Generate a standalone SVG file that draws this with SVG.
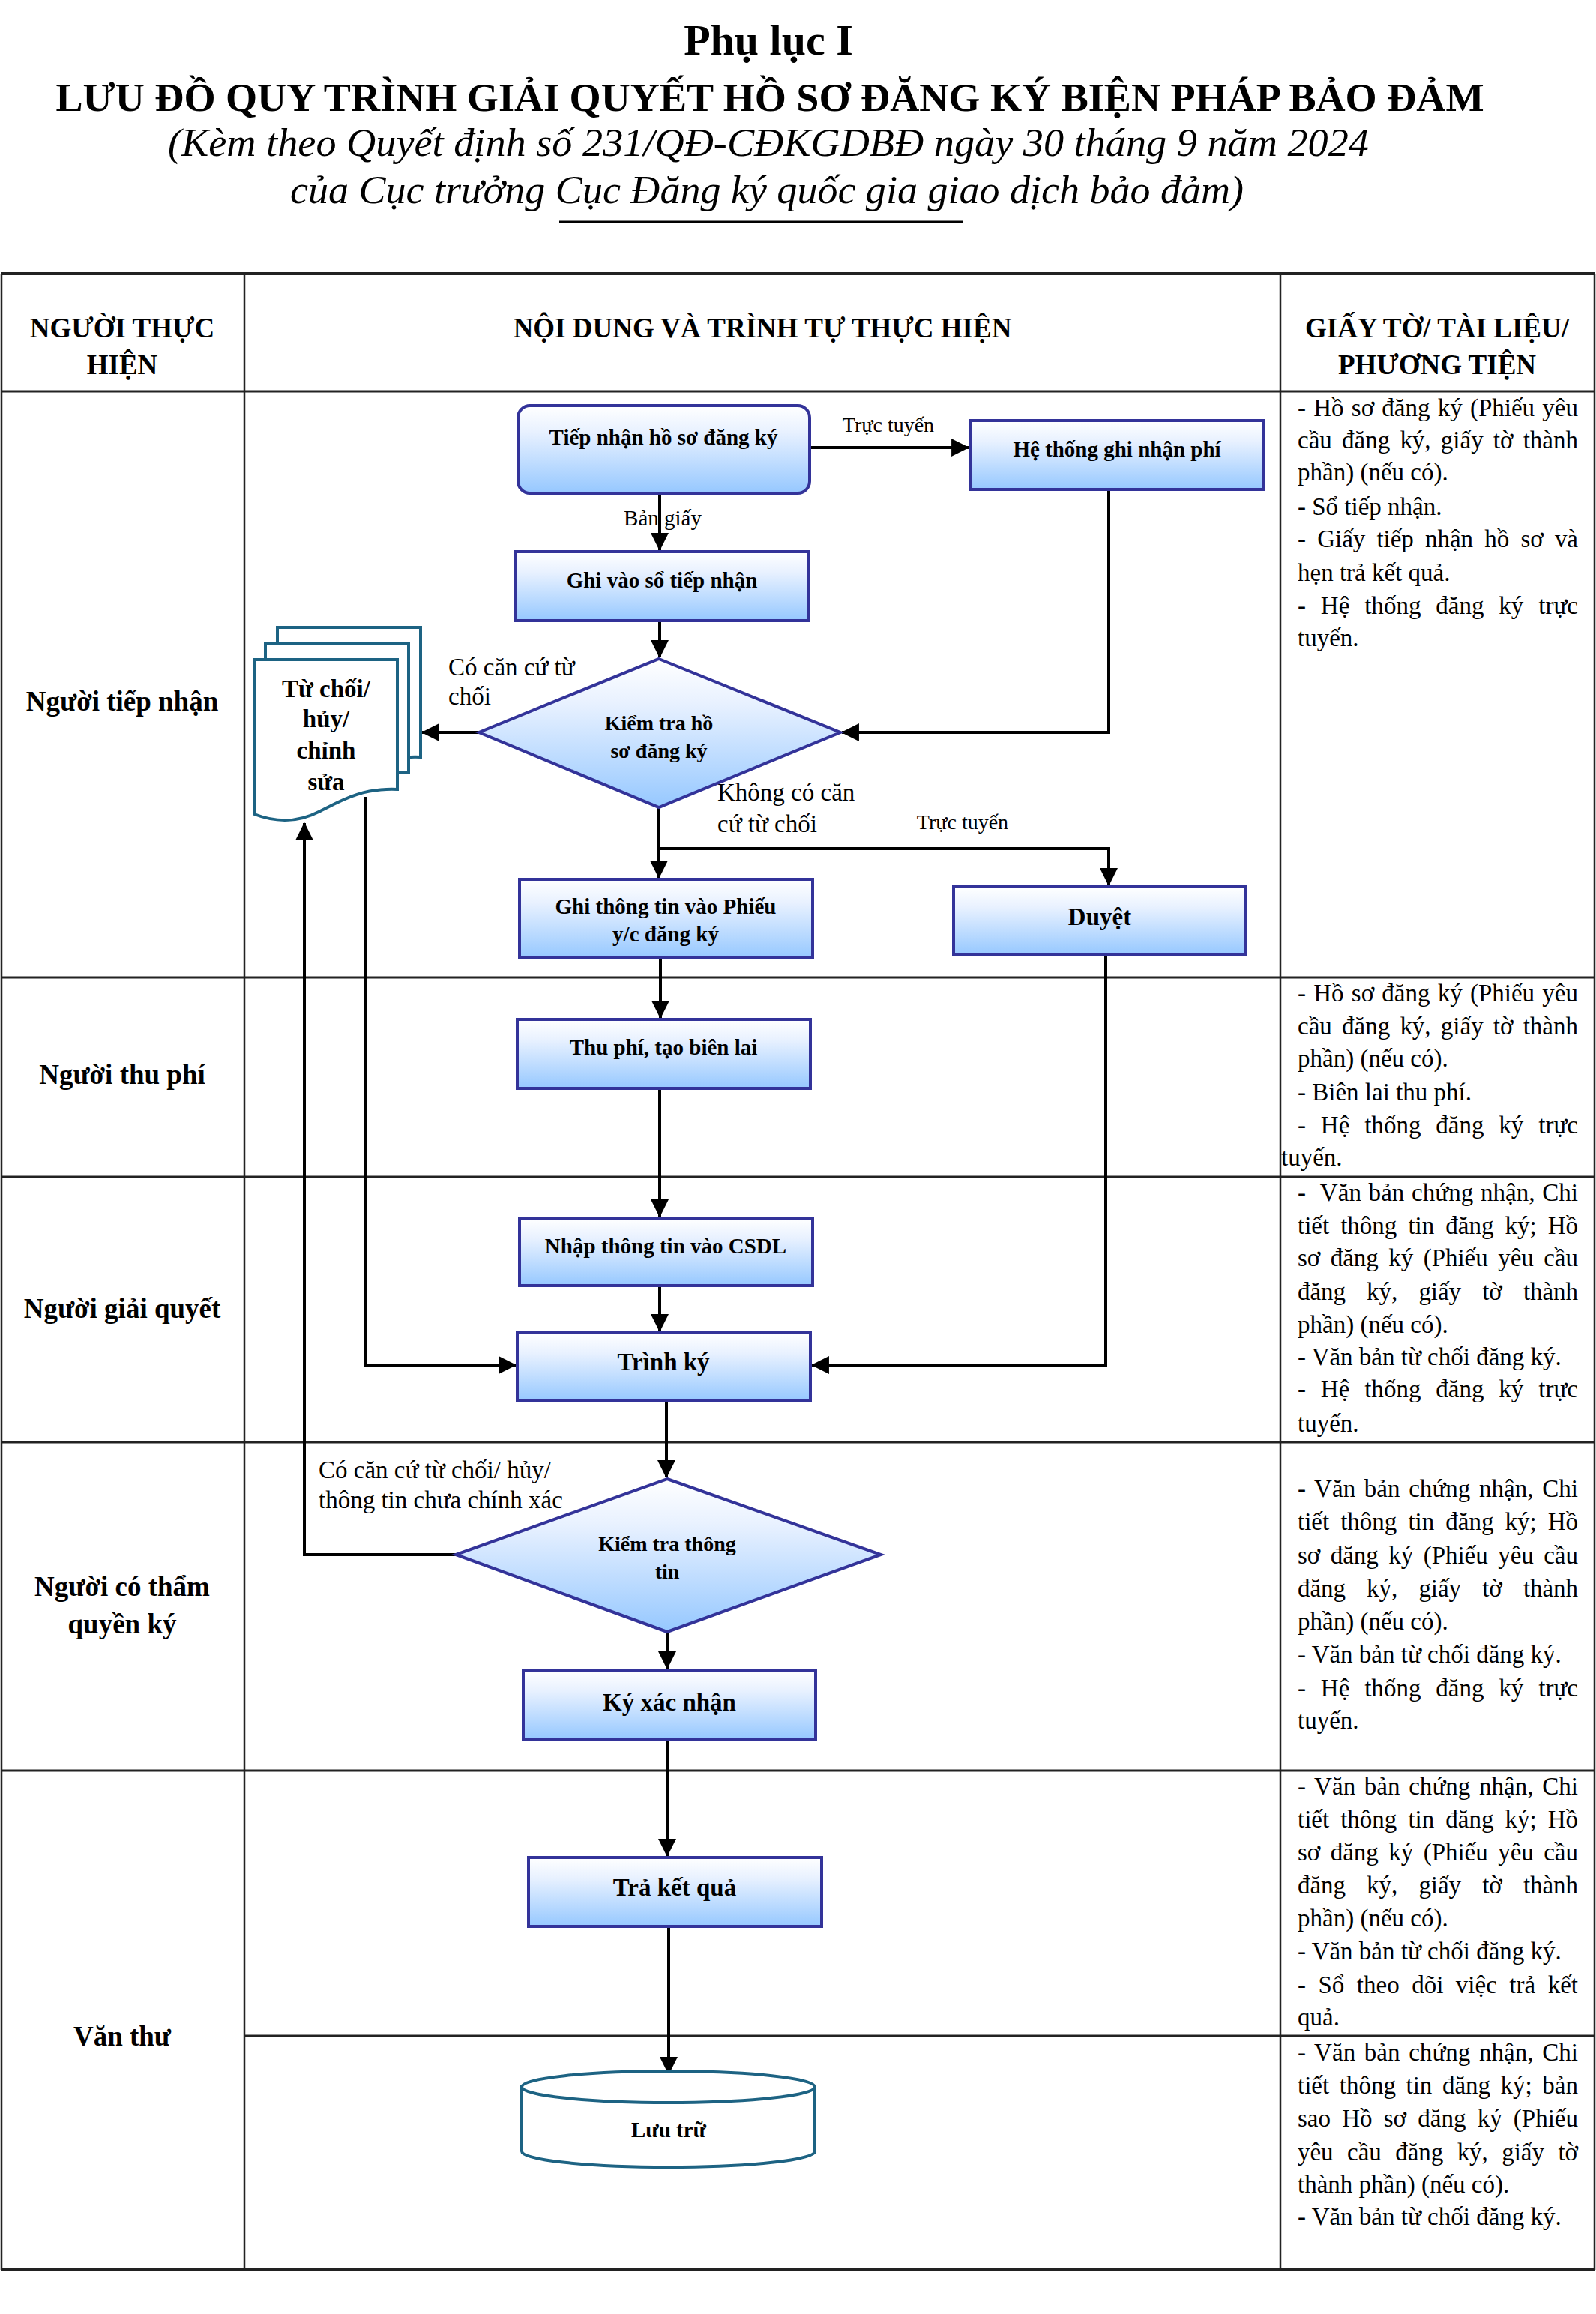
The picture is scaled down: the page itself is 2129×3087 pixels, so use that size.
<svg xmlns="http://www.w3.org/2000/svg" width="2129" height="3087" viewBox="0 0 2129 3087">
<style>
text{font-family:"Liberation Serif","Times New Roman",serif;fill:#000}
.t1{font-size:58px;font-weight:bold}
.t2{font-size:53px;font-weight:bold}
.t3{font-size:53px;font-style:italic}
.hd{font-size:37px;font-weight:bold;text-anchor:middle}
.lane{font-size:37px;font-weight:bold;text-anchor:middle}
.doc{font-size:33px}
.bx{font-size:29px;font-weight:bold;text-anchor:middle}
.bx2{font-size:33px;font-weight:bold;text-anchor:middle}
.lbl{font-size:33px}
.lbs{font-size:28px}
.tl{stroke:#222;stroke-width:3;fill:none}
.tv{stroke:#222;stroke-width:2.5;fill:none}
.box{fill:url(#g);stroke:#333399;stroke-width:4}
.dm{fill:url(#g);stroke:#333399;stroke-width:4}
.teal{fill:#fff;stroke:#1d6383;stroke-width:4}
.cn{stroke:#000;stroke-width:4;fill:none;marker-end:url(#ah)}
.wA{word-spacing:2px}.wB{word-spacing:5px}.wC{word-spacing:7px}.wD{word-spacing:11.5px}
.wE{word-spacing:3.3px}.wE2{word-spacing:1.4px}.wF{word-spacing:6.8px}.wG{word-spacing:5.2px}
.wH{word-spacing:20px}.wI{word-spacing:8.2px}.wJ{word-spacing:5.3px}.wK{word-spacing:7px}.wL{word-spacing:10.3px}
</style>
<defs>
<linearGradient id="g" x1="0" y1="0" x2="0" y2="1">
<stop offset="0" stop-color="#ffffff"/>
<stop offset="0.3" stop-color="#e8f1ff"/>
<stop offset="1" stop-color="#96c8ff"/>
</linearGradient>
<marker id="ah" markerUnits="userSpaceOnUse" markerWidth="24" markerHeight="24" viewBox="0 0 22 22" refX="21" refY="11" orient="auto">
<path d="M0,0 L22,11 L0,22 Z" fill="#000"/>
</marker>
</defs>
<rect x="0" y="0" width="2129" height="3087" fill="#fff"/>

<g id="title">
<text class="t1" x="1025" y="73" text-anchor="middle">Phụ lục I</text>
<text class="t2" x="1027" y="148" text-anchor="middle" textLength="1905" lengthAdjust="spacingAndGlyphs">LƯU ĐỒ QUY TRÌNH GIẢI QUYẾT HỒ SƠ ĐĂNG KÝ BIỆN PHÁP BẢO ĐẢM</text>
<text class="t3" x="1025" y="208" text-anchor="middle" textLength="1602" lengthAdjust="spacingAndGlyphs">(Kèm theo Quyết định số 231/QĐ-CĐKGDBĐ ngày 30 tháng 9 năm 2024</text>
<text class="t3" x="1023" y="271" text-anchor="middle" textLength="1272" lengthAdjust="spacingAndGlyphs">của Cục trưởng Cục Đăng ký quốc gia giao dịch bảo đảm)</text>
<line x1="746" y1="296" x2="1284" y2="296" stroke="#000" stroke-width="3"/>
</g>

<g id="table">
<path class="tl" d="M2,365 H2127" style="stroke-width:4"/>
<path class="tl" d="M2,522 H2127"/>
<path class="tl" d="M2,1304 H2127"/>
<path class="tl" d="M2,1570 H2127"/>
<path class="tl" d="M2,1924 H2127"/>
<path class="tl" d="M2,2362 H2127"/>
<path class="tl" d="M327,2716 H2127"/>
<path class="tl" d="M2,3028 H2127" style="stroke-width:4"/>
<path class="tv" d="M2,365 V3028"/>
<path class="tv" d="M326,365 V3028"/>
<path class="tv" d="M1708,365 V3028"/>
<path class="tv" d="M2127,365 V3028"/>
<text class="hd" x="163" y="450">NGƯỜI THỰC</text>
<text class="hd" x="163" y="499">HIỆN</text>
<text class="hd" x="1017" y="450">NỘI DUNG VÀ TRÌNH TỰ THỰC HIỆN</text>
<text class="hd" x="1917" y="450">GIẤY TỜ/ TÀI LIỆU/</text>
<text class="hd" x="1917" y="499">PHƯƠNG TIỆN</text>
</g>

<g id="lanes">
<text class="lane" x="163" y="948">Người tiếp nhận</text>
<text class="lane" x="163" y="1446">Người thu phí</text>
<text class="lane" x="163" y="1758">Người giải quyết</text>
<text class="lane" x="163" y="2129">Người có thẩm</text>
<text class="lane" x="163" y="2179">quyền ký</text>
<text class="lane" x="163" y="2729">Văn thư</text>
</g>

<g id="docs">
<g id="docs-r1">
<text class="doc wA" x="1731" y="555" textLength="374" lengthAdjust="spacing">- Hồ sơ đăng ký (Phiếu yêu</text>
<text class="doc wB" x="1731" y="598" textLength="374" lengthAdjust="spacing">cầu đăng ký, giấy tờ thành</text>
<text class="doc" x="1731" y="641">phần) (nếu có).</text>
<text class="doc" x="1731" y="687">- Sổ tiếp nhận.</text>
<text class="doc wC" x="1731" y="730" textLength="374" lengthAdjust="spacing">- Giấy tiếp nhận hồ sơ và</text>
<text class="doc" x="1731" y="775">hẹn trả kết quả.</text>
<text class="doc wD" x="1731" y="819" textLength="374" lengthAdjust="spacing">- Hệ thống đăng ký trực</text>
<text class="doc" x="1731" y="862">tuyến.</text>
</g>
<g id="docs-r2">
<text class="doc wA" x="1731" y="1336" textLength="374" lengthAdjust="spacing">- Hồ sơ đăng ký (Phiếu yêu</text>
<text class="doc wB" x="1731" y="1380" textLength="374" lengthAdjust="spacing">cầu đăng ký, giấy tờ thành</text>
<text class="doc" x="1731" y="1423">phần) (nếu có).</text>
<text class="doc" x="1731" y="1468">- Biên lai thu phí.</text>
<text class="doc wD" x="1731" y="1512" textLength="374" lengthAdjust="spacing">- Hệ thống đăng ký trực</text>
<text class="doc" x="1709" y="1555">tuyến.</text>
</g>
<g id="docs-r3">
<text class="doc wE2" x="1731" y="1602" textLength="374" lengthAdjust="spacing">-&#160; Văn bản chứng nhận, Chi</text>
<text class="doc wF" x="1731" y="1646" textLength="374" lengthAdjust="spacing">tiết thông tin đăng ký; Hồ</text>
<text class="doc wG" x="1731" y="1689" textLength="374" lengthAdjust="spacing">sơ đăng ký (Phiếu yêu cầu</text>
<text class="doc wH" x="1731" y="1734" textLength="374" lengthAdjust="spacing">đăng ký, giấy tờ thành</text>
<text class="doc" x="1731" y="1778">phần) (nếu có).</text>
<text class="doc" x="1731" y="1821">- Văn bản từ chối đăng ký.</text>
<text class="doc wD" x="1731" y="1864" textLength="374" lengthAdjust="spacing">- Hệ thống đăng ký trực</text>
<text class="doc" x="1731" y="1910">tuyến.</text>
</g>
<g id="docs-r4">
<text class="doc wE" x="1731" y="1997" textLength="374" lengthAdjust="spacing">- Văn bản chứng nhận, Chi</text>
<text class="doc wF" x="1731" y="2041" textLength="374" lengthAdjust="spacing">tiết thông tin đăng ký; Hồ</text>
<text class="doc wG" x="1731" y="2086" textLength="374" lengthAdjust="spacing">sơ đăng ký (Phiếu yêu cầu</text>
<text class="doc wH" x="1731" y="2130" textLength="374" lengthAdjust="spacing">đăng ký, giấy tờ thành</text>
<text class="doc" x="1731" y="2174">phần) (nếu có).</text>
<text class="doc" x="1731" y="2218">- Văn bản từ chối đăng ký.</text>
<text class="doc wD" x="1731" y="2263" textLength="374" lengthAdjust="spacing">- Hệ thống đăng ký trực</text>
<text class="doc" x="1731" y="2306">tuyến.</text>
</g>
<g id="docs-r5">
<text class="doc wE" x="1731" y="2394" textLength="374" lengthAdjust="spacing">- Văn bản chứng nhận, Chi</text>
<text class="doc wF" x="1731" y="2438" textLength="374" lengthAdjust="spacing">tiết thông tin đăng ký; Hồ</text>
<text class="doc wG" x="1731" y="2482" textLength="374" lengthAdjust="spacing">sơ đăng ký (Phiếu yêu cầu</text>
<text class="doc wH" x="1731" y="2526" textLength="374" lengthAdjust="spacing">đăng ký, giấy tờ thành</text>
<text class="doc" x="1731" y="2570">phần) (nếu có).</text>
<text class="doc" x="1731" y="2614">- Văn bản từ chối đăng ký.</text>
<text class="doc wI" x="1731" y="2659" textLength="374" lengthAdjust="spacing">- Sổ theo dõi việc trả kết</text>
<text class="doc" x="1731" y="2702">quả.</text>
</g>
<g id="docs-r6">
<text class="doc wE" x="1731" y="2749" textLength="374" lengthAdjust="spacing">- Văn bản chứng nhận, Chi</text>
<text class="doc wJ" x="1731" y="2793" textLength="374" lengthAdjust="spacing">tiết thông tin đăng ký; bản</text>
<text class="doc wK" x="1731" y="2837" textLength="374" lengthAdjust="spacing">sao Hồ sơ đăng ký (Phiếu</text>
<text class="doc wL" x="1731" y="2882" textLength="374" lengthAdjust="spacing">yêu cầu đăng ký, giấy tờ</text>
<text class="doc" x="1731" y="2925">thành phần) (nếu có).</text>
<text class="doc" x="1731" y="2968">- Văn bản từ chối đăng ký.</text>
</g>
</g>

<g id="connectors">
<path class="cn" d="M880,658 V734"/>
<path class="cn" d="M1080,597 H1292"/>
<path class="cn" d="M1479,653 V977 H1123"/>
<path class="cn" d="M880,828 V877"/>
<path class="cn" d="M639,977 H563"/>
<path class="cn" d="M879,1077 V1171"/>
<path class="cn" d="M879,1132 H1479 V1181"/>
<path class="cn" d="M881,1278 V1358"/>
<path class="cn" d="M880,1452 V1623"/>
<path class="cn" d="M880,1715 V1776"/>
<path class="cn" d="M1475,1274 V1821 H1083"/>
<path class="cn" d="M488,1063 V1821 H688"/>
<path class="cn" d="M889,1869 V1971"/>
<path class="cn" d="M608,2074 H406 V1098"/>
<path class="cn" d="M890,2177 V2226"/>
<path class="cn" d="M890,2320 V2476"/>
<path class="cn" d="M892,2570 V2767"/>
<text class="lbl" x="884" y="701" text-anchor="middle" style="font-size:29px">Bản giấy</text>
<text class="lbs" x="1185" y="576" text-anchor="middle">Trực tuyến</text>
<text class="lbl" x="598" y="901">Có căn cứ từ</text>
<text class="lbl" x="598" y="940">chối</text>
<text class="lbl" x="957" y="1068">Không có căn</text>
<text class="lbl" x="957" y="1110">cứ từ chối</text>
<text class="lbs" x="1284" y="1106" text-anchor="middle">Trực tuyến</text>
<text class="lbl" x="425" y="1972">Có căn cứ từ chối/ hủy/</text>
<text class="lbl" x="425" y="2012">thông tin chưa chính xác</text>
</g>

<g id="n-tiep-nhan">
<rect class="box" x="691" y="541" width="389" height="117" rx="16"/>
<text class="bx" x="885" y="593">Tiếp nhận hồ sơ đăng ký</text>
</g>
<g id="n-he-thong">
<rect class="box" x="1294" y="561" width="391" height="92"/>
<text class="bx" x="1490" y="609">Hệ thống ghi nhận phí</text>
</g>
<g id="n-ghi-so">
<rect class="box" x="687" y="736" width="392" height="92"/>
<text class="bx" x="883" y="784">Ghi vào sổ tiếp nhận</text>
</g>
<g id="n-kiem-tra-ho-so">
<polygon class="dm" points="879,879 1121,977 879,1077 639,977"/>
<text class="bx" x="879" y="974" style="font-size:28px">Kiểm tra hồ</text>
<text class="bx" x="879" y="1011" style="font-size:28px">sơ đăng ký</text>
</g>
<g id="n-tu-choi">
<path class="teal" transform="translate(31,-43)" d="M339,880 H530 V1053 C482,1051 455,1068 425,1083 C400,1096 370,1098 339,1086 Z"/>
<path class="teal" transform="translate(15,-22)" d="M339,880 H530 V1053 C482,1051 455,1068 425,1083 C400,1096 370,1098 339,1086 Z"/>
<path class="teal" d="M339,880 H530 V1053 C482,1051 455,1068 425,1083 C400,1096 370,1098 339,1086 Z"/>
<text class="bx2" x="435" y="930">Từ chối/</text>
<text class="bx2" x="435" y="970">hủy/</text>
<text class="bx2" x="435" y="1012">chỉnh</text>
<text class="bx2" x="435" y="1054">sửa</text>
</g>
<g id="n-ghi-phieu">
<rect class="box" x="693" y="1173" width="391" height="105"/>
<text class="bx" x="888" y="1219">Ghi thông tin vào Phiếu</text>
<text class="bx" x="888" y="1256">y/c đăng ký</text>
</g>
<g id="n-duyet">
<rect class="box" x="1272" y="1183" width="390" height="91"/>
<text class="bx2" x="1467" y="1234">Duyệt</text>
</g>
<g id="n-thu-phi">
<rect class="box" x="690" y="1360" width="391" height="92"/>
<text class="bx" x="885" y="1407">Thu phí, tạo biên lai</text>
</g>
<g id="n-nhap">
<rect class="box" x="693" y="1625" width="391" height="90"/>
<text class="bx" x="888" y="1672">Nhập thông tin vào CSDL</text>
</g>
<g id="n-trinh-ky">
<rect class="box" x="690" y="1778" width="391" height="91"/>
<text class="bx2" x="885" y="1828">Trình ký</text>
</g>
<g id="n-kiem-tra-thong-tin">
<polygon class="dm" points="890,1973 1175,2074 890,2177 608,2074"/>
<text class="bx" x="890" y="2069" style="font-size:28px">Kiểm tra thông</text>
<text class="bx" x="890" y="2106" style="font-size:28px">tin</text>
</g>
<g id="n-ky">
<rect class="box" x="698" y="2228" width="390" height="92"/>
<text class="bx2" x="893" y="2282">Ký xác nhận</text>
</g>
<g id="n-tra">
<rect class="box" x="705" y="2478" width="391" height="92"/>
<text class="bx2" x="900" y="2529">Trả kết quả</text>
</g>
<g id="n-luu-tru">
<path class="teal" d="M696,2784 V2870 A195.5,21 0 0 0 1087,2870 V2784 Z"/>
<ellipse class="teal" cx="891.5" cy="2784" rx="195.5" ry="21"/>
<text class="bx" x="892" y="2851">Lưu trữ</text>
</g>
</svg>
